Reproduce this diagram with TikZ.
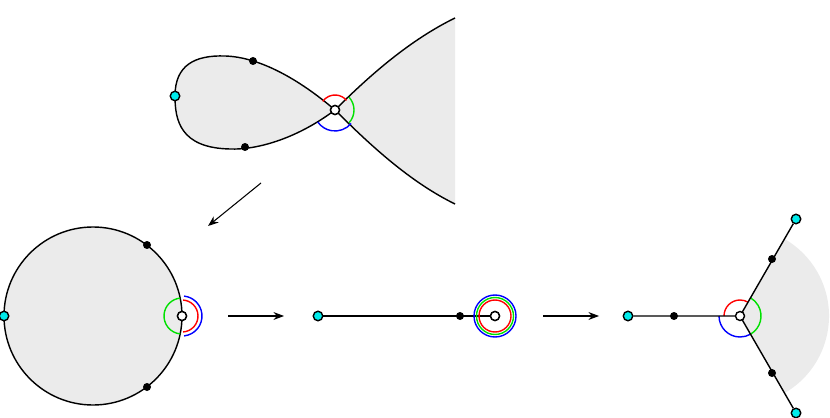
\documentclass[tikz,border=0pt]{standalone}
\usetikzlibrary{arrows.meta}
\definecolor{lightgrey}{RGB}{235,235,235}
\definecolor{grn}{RGB}{0,225,0}
\definecolor{cyn}{RGB}{0,235,235}
\begin{document}
\begin{tikzpicture}[x=0.02cm,y=-0.02cm,line width=0.8pt,
  vertex/.style={circle,draw,fill=white,inner sep=0pt,minimum size=0.18cm},
  bead/.style={circle,fill=black,inner sep=0pt,minimum size=0.16cm},
  endpt/.style={circle,draw,fill=cyn,inner sep=0pt,minimum size=0.19cm},
  ring/.style={line width=0.8pt},
  move/.style={-{Stealth[length=6pt,width=4.5pt]},line width=0.6pt}]
\useasboundingbox (0,0) rectangle (830,418);
% first picture: the pinched loop
\fill[lightgrey] (455,18) .. controls (410,40) and (370,75) .. (335,110)
          .. controls (295,140) and (255,150) .. (230,149)
          .. controls (180,148) and (175,120) .. (175,96)
          .. controls (175,65) and (195,55) .. (225,56)
          .. controls (260,57) and (300,80) .. (335,110)
          .. controls (370,145) and (410,182) .. (455,204) -- cycle;
\draw     (455,18) .. controls (410,40) and (370,75) .. (335,110)
          .. controls (295,140) and (255,150) .. (230,149)
          .. controls (180,148) and (175,120) .. (175,96)
          .. controls (175,65) and (195,55) .. (225,56)
          .. controls (260,57) and (300,80) .. (335,110)
          .. controls (370,145) and (410,182) .. (455,204);
\node[vertex] (w1) at (335,110) {};
\draw[ring,red]  (w1) ++(-145:15) arc (-145:-40:15);
\draw[ring,grn]  (w1) ++(-42:19) arc (-42:42:19);
\draw[ring,blue] (w1) ++(40:21) arc (40:145:21);
\node[vertex] at (w1) {};
\node[bead] (b1) at (253,61) {};
\node[bead] (b2) at (245,147) {};
\node[endpt] (c1) at (175,96) {};
% arrows
\coordinate (a1) at (261,183);
\coordinate (a2) at (208,226);
\draw[move] (a1) -- (a2);
\coordinate (a3) at (228,316);
\coordinate (a4) at (284,316);
\draw[move] (a3) -- (a4);
\coordinate (a5) at (543,316);
\coordinate (a6) at (599,316);
\draw[move] (a5) -- (a6);
% second picture: the disc
\filldraw[fill=lightgrey] (93,316) circle (89);
\node[vertex] (w2) at (182,316) {};
\draw[ring,grn]  (w2) ++(96:18) arc (96:264:18);
\draw[ring,blue] (w2) ++(84:20) arc (84:-84:20);
\draw[ring,red]  (w2) ++(86:16) arc (86:-86:16);
\node[vertex] at (w2) {};
\node[bead] (b3) at (147,245) {};
\node[bead] (b4) at (147,387) {};
\node[endpt] (c2) at (4,316) {};
% third picture: the segment
\node[vertex] (w3) at (495,316) {};
\node[endpt] (c3) at (318,316) {};
\draw (c3) -- (w3);
\draw[ring,red]  (w3) circle (16);
\draw[ring,grn]  (w3) circle (18.5);
\draw[ring,blue] (w3) circle (21);
\node[bead] (b5) at (460,316) {};
\node[vertex] at (w3) {};
% fourth picture: the tripod
\coordinate (w4) at (740,316);
\fill[lightgrey] (w4) -- ++(60:89) arc (60:-60:89) -- cycle;
\draw[ring,red]  (w4) ++(180:16) arc (180:300:16);
\draw[ring,grn]  (w4) ++(60:21) arc (60:-60:21);
\draw[ring,blue] (w4) ++(180:21) arc (180:60:21);
\node[endpt] (c4) at (628,316) {};
\node[endpt] (c5) at (796,219) {};
\node[endpt] (c6) at (796,413) {};
\draw (c4) -- (w4) (c5) -- (w4) (c6) -- (w4);
\node[bead] (b6) at (674,316) {};
\node[bead] (b7) at (772,259) {};
\node[bead] (b8) at (772,373) {};
\node[vertex] at (w4) {};
\end{tikzpicture}
\end{document}
